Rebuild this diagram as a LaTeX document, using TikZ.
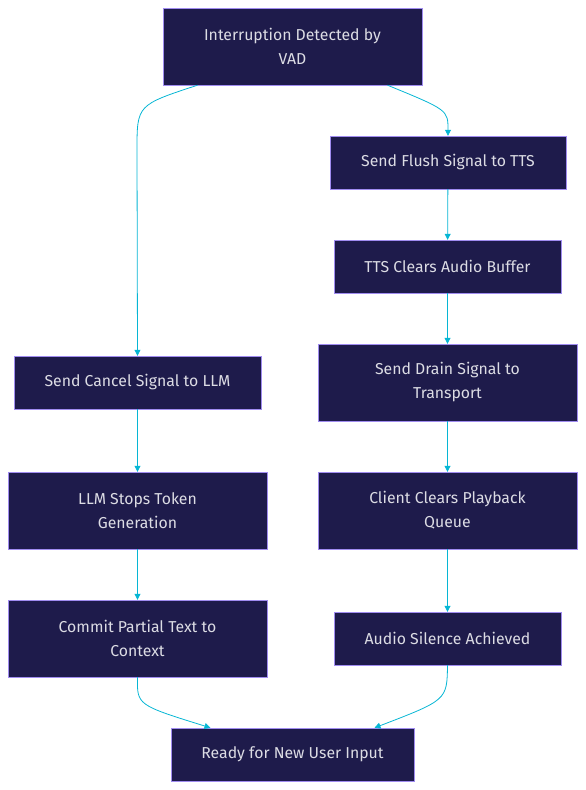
\documentclass[tikz,border=0pt]{standalone}
\usepackage{fontspec}
\setmainfont{Fira Sans}
\usetikzlibrary{arrows.meta}
\definecolor{boxfill}{HTML}{1E1B4B}
\definecolor{boxline}{HTML}{A08CF0}
\definecolor{boxtext}{HTML}{DCDCE4}
\definecolor{flow}{HTML}{06B6D4}
\begin{document}
\begin{tikzpicture}[x=1pt, y=-1pt,
  stage/.style={draw=boxline, fill=boxfill, text=boxtext, align=center, inner sep=0pt, font=\fontsize{15.8}{24}\selectfont},
  flowline/.style={draw=flow, line width=0.8pt, -{Triangle[length=6pt, width=6pt]}}]
\useasboundingbox (0,0) rectangle (586,790);
\node[stage, minimum width=259pt, minimum height=77pt] (vad) at (292.5,46.5) {Interruption Detected by\\VAD};
\node[stage, minimum width=236pt, minimum height=53pt] (flush) at (448,162.5) {Send Flush Signal to TTS};
\node[stage, minimum width=227pt, minimum height=53pt] (ttsclear) at (447.5,266.5) {TTS Clears Audio Buffer};
\node[stage, minimum width=259pt, minimum height=77pt] (drain) at (447.5,382.5) {Send Drain Signal to\\Transport};
\node[stage, minimum width=259pt, minimum height=77pt] (client) at (447.5,510.5) {Client Clears Playback\\Queue};
\node[stage, minimum width=227pt, minimum height=53pt] (silence) at (447.5,638.5) {Audio Silence Achieved};
\node[stage, minimum width=247pt, minimum height=53pt] (cancel) at (137.5,382.5) {Send Cancel Signal to LLM};
\node[stage, minimum width=259pt, minimum height=77pt] (llmstop) at (137.5,510.5) {LLM Stops Token\\Generation};
\node[stage, minimum width=259pt, minimum height=77pt] (commit) at (137.5,638.5) {Commit Partial Text to\\Context};
\node[stage, minimum width=243pt, minimum height=53pt] (ready) at (292.5,754.5) {Ready for New User Input};
\draw[flowline] ([xshift=-95pt]vad.south) .. controls (137,105) .. (137,150) -- (cancel.north);
\draw[flowline] ([xshift=95pt]vad.south) .. controls (448,110) .. (flush.north);
\draw[flowline] (flush) -- (ttsclear);
\draw[flowline] (ttsclear) -- (drain);
\draw[flowline] (drain) -- (client);
\draw[flowline] (client) -- (silence);
\draw[flowline] (cancel) -- (llmstop);
\draw[flowline] (llmstop) -- (commit);
\draw[flowline] (commit.south) .. controls (137,705) .. ([xshift=-82pt]ready.north);
\draw[flowline] (silence.south) .. controls (447,700) .. ([xshift=82pt]ready.north);
\end{tikzpicture}
\end{document}
